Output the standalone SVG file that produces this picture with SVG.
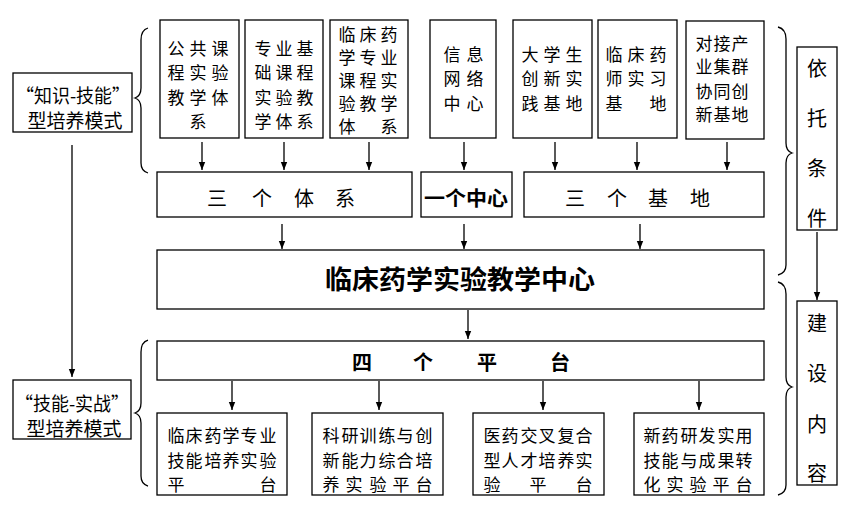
<svg xmlns="http://www.w3.org/2000/svg" width="862" height="505" viewBox="0 0 862 505">
<defs>
<style>
.b{fill:#fff;stroke:#000;stroke-width:1.3}
text{font-family:"Noto Sans CJK SC","Noto Sans CJK JP",sans-serif;fill:#000;dominant-baseline:central;text-anchor:middle}
.s{font-size:17px}
.m{font-size:19px}
.h{font-size:20px}
.bd{font-weight:bold}
.c line,.c path{stroke:#000;stroke-width:1.3;fill:none}
</style>
<marker id="a" viewBox="0 0 10 10" refX="10" refY="5" markerWidth="8" markerHeight="8" markerUnits="userSpaceOnUse" orient="auto">
<path d="M0,1 L10,5 L0,9 Z" fill="#000"/>
</marker>
</defs>
<rect width="862" height="505" fill="#fff"/>

<g class="c" id="connectors">
<line x1="202" y1="142" x2="202" y2="170" marker-end="url(#a)"/>
<line x1="284" y1="142" x2="284" y2="170" marker-end="url(#a)"/>
<line x1="369" y1="142" x2="369" y2="170" marker-end="url(#a)"/>
<line x1="464" y1="142" x2="464" y2="170" marker-end="url(#a)"/>
<line x1="555" y1="142" x2="555" y2="170" marker-end="url(#a)"/>
<line x1="637" y1="142" x2="637" y2="170" marker-end="url(#a)"/>
<line x1="727" y1="142" x2="727" y2="170" marker-end="url(#a)"/>
<line x1="282" y1="224" x2="282" y2="249" marker-end="url(#a)"/>
<line x1="464" y1="224" x2="464" y2="249" marker-end="url(#a)"/>
<line x1="640" y1="224" x2="640" y2="249" marker-end="url(#a)"/>
<line x1="468" y1="310" x2="468" y2="339" marker-end="url(#a)"/>
<line x1="232" y1="381" x2="232" y2="410" marker-end="url(#a)"/>
<line x1="379" y1="381" x2="379" y2="410" marker-end="url(#a)"/>
<line x1="543" y1="381" x2="543" y2="410" marker-end="url(#a)"/>
<line x1="699" y1="381" x2="699" y2="410" marker-end="url(#a)"/>
<line x1="72" y1="145" x2="72" y2="377" marker-end="url(#a)"/>
<line x1="817" y1="232" x2="817" y2="300" marker-end="url(#a)"/>
<path d="M148,28 Q141,30 141,40 L141,88 Q141,96 135,98 Q141,100 141,108 L141,163 Q141,171 148,173"/>
<path d="M148,340 Q141,342 141,352 L141,403 Q141,411 135,413 Q141,415 141,423 L141,476 Q141,484 148,486"/>
<path d="M778,27 Q786,29 786,39 L786,143 Q786,151 792,153 Q786,155 786,163 L786,265 Q786,273 778,275"/>
<path d="M778,282 Q786,284 786,294 L786,377 Q786,385 792,387 Q786,389 786,397 L786,485 Q786,493 778,495"/>
</g>

<g id="n-zhishi">
<rect class="b" x="13" y="73" width="119" height="59"/>
<text class="m" x="73" y="94" textLength="114" lengthAdjust="spacingAndGlyphs">“知识-技能”</text>
<text class="m" x="75" y="119">型培养模式</text>
</g>
<g id="n-jineng">
<rect class="b" x="13" y="380" width="118" height="59"/>
<text class="m" x="72" y="402" textLength="114" lengthAdjust="spacingAndGlyphs">“技能-实战”</text>
<text class="m" x="74" y="427">型培养模式</text>
</g>

<g id="n-gonggong">
<rect class="b" x="160" y="20" width="79" height="118"/>
<text class="s" x="176 198 220" y="47">公共课</text>
<text class="s" x="176 198 220" y="71">程实验</text>
<text class="s" x="176 198 220" y="96">教学体</text>
<text class="s" x="198" y="120">系</text>
</g>
<g id="n-zhuanye">
<rect class="b" x="245" y="20" width="78" height="118"/>
<text class="s" x="263 284 305" y="47">专业基</text>
<text class="s" x="263 284 305" y="71">础课程</text>
<text class="s" x="263 284 305" y="96">实验教</text>
<text class="s" x="263 284 305" y="120">学体系</text>
</g>
<g id="n-linchuang">
<rect class="b" x="330" y="20" width="78" height="118"/>
<text class="s" x="347 368 389" y="33">临床药</text>
<text class="s" x="347 368 389" y="56">学专业</text>
<text class="s" x="347 368 389" y="79">课程实</text>
<text class="s" x="347 368 389" y="102">验教学</text>
<text class="s" x="347 389" y="125">体系</text>
</g>
<g id="n-xinxi">
<rect class="b" x="430" y="20" width="66" height="118"/>
<text class="s" x="452 475" y="53">信息</text>
<text class="s" x="452 475" y="77">网络</text>
<text class="s" x="452 475" y="102">中心</text>
</g>
<g id="n-daxuesheng">
<rect class="b" x="513" y="20" width="79" height="118"/>
<text class="s" x="530 552 574" y="53">大学生</text>
<text class="s" x="530 552 574" y="77">创新实</text>
<text class="s" x="530 552 574" y="102">践基地</text>
</g>
<g id="n-yaoshi">
<rect class="b" x="598" y="20" width="79" height="118"/>
<text class="s" x="614 636 658" y="53">临床药</text>
<text class="s" x="614 636 658" y="77">师实习</text>
<text class="s" x="614 658" y="102">基地</text>
</g>
<g id="n-duijie">
<rect class="b" x="686" y="21" width="78" height="118"/>
<text class="s" x="704 722 740" y="42">对接产</text>
<text class="s" x="704 722 740" y="65">业集群</text>
<text class="s" x="704 722 740" y="90">协同创</text>
<text class="s" x="704 722 740" y="113">新基地</text>
</g>

<g id="n-santixi">
<rect class="b" x="157" y="172" width="255" height="45"/>
<text class="h" x="217 262 304 345" y="197">三个体系</text>
</g>
<g id="n-yigezhongxin">
<rect class="b" x="421" y="172" width="91" height="45"/>
<text class="h bd" x="466" y="197" textLength="84" lengthAdjust="spacingAndGlyphs">一个中心</text>
</g>
<g id="n-sanjidi">
<rect class="b" x="524" y="172" width="240" height="45"/>
<text class="h" x="575 617 658 700" y="197">三个基地</text>
</g>

<g id="n-center">
<rect class="b" x="157" y="250" width="607" height="59"/>
<text class="bd" style="font-size:26px" x="460" y="277" textLength="270" lengthAdjust="spacingAndGlyphs">临床药学实验教学中心</text>
</g>

<g id="n-sipingtai">
<rect class="b" x="157" y="341" width="607" height="39"/>
<text class="h bd" x="362 423 487 560" y="361">四个平台</text>
</g>

<g id="n-p1">
<rect class="b" x="157" y="413" width="130" height="82"/>
<text class="s" x="176 194 213 231 249 268" y="434">临床药学专业</text>
<text class="s" x="176 194 213 231 249 268" y="459">技能培养实验</text>
<text class="s" x="176 268" y="483">平台</text>
</g>
<g id="n-p2">
<rect class="b" x="312" y="413" width="131" height="82"/>
<text class="s" x="331 350 368 387 405 424" y="434">科研训练与创</text>
<text class="s" x="331 350 368 387 405 424" y="459">新能力综合培</text>
<text class="s" x="331 354 378 401 424" y="483">养实验平台</text>
</g>
<g id="n-p3">
<rect class="b" x="473" y="413" width="131" height="82"/>
<text class="s" x="492 510 529 547 566 584" y="434">医药交叉复合</text>
<text class="s" x="492 510 529 547 566 584" y="459">型人才培养实</text>
<text class="s" x="492 538 584" y="483">验平台</text>
</g>
<g id="n-p4">
<rect class="b" x="634" y="413" width="130" height="82"/>
<text class="s" x="652 670 689 707 726 744" y="434">新药研发实用</text>
<text class="s" x="652 670 689 707 726 744" y="459">技能与成果转</text>
<text class="s" x="652 675 698 721 744" y="483">化实验平台</text>
</g>

<g id="n-yituo">
<rect class="b" x="797" y="47" width="40" height="183"/>
<text class="h" x="817" y="67">依</text>
<text class="h" x="817" y="117">托</text>
<text class="h" x="817" y="167">条</text>
<text class="h" x="817" y="217">件</text>
</g>
<g id="n-jianshe">
<rect class="b" x="797" y="301" width="40" height="184"/>
<text class="h" x="817" y="322">建</text>
<text class="h" x="817" y="372">设</text>
<text class="h" x="817" y="423">内</text>
<text class="h" x="817" y="472">容</text>
</g>
</svg>
